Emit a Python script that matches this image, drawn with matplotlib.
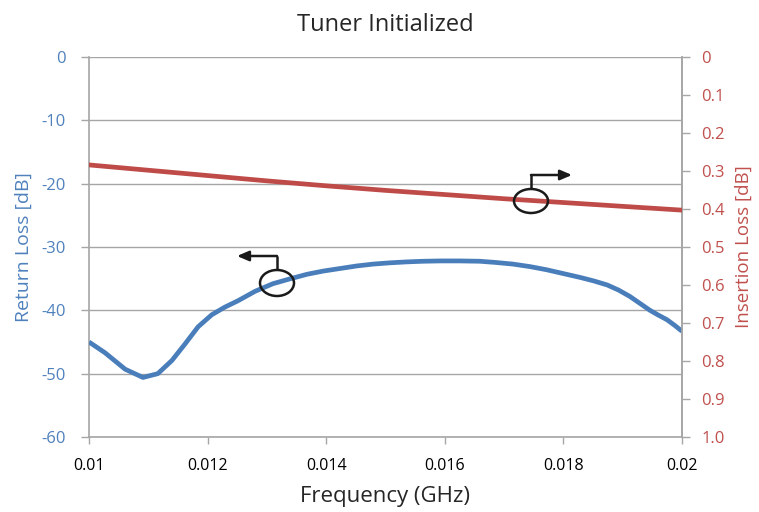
import matplotlib
matplotlib.use("Agg")
import matplotlib.pyplot as plt
from matplotlib.patches import Ellipse

plt.rcParams['font.family'] = ['Open Sans', 'DejaVu Sans']

# Data
freq_rl = [0.01000, 0.01027, 0.01061, 0.01091, 0.01116, 0.01140, 0.01162, 0.01184,
           0.01207, 0.01229, 0.01251, 0.01280, 0.01310, 0.01340, 0.01368, 0.01395,
           0.01423, 0.01451, 0.01479, 0.01507, 0.01536, 0.01564, 0.01592, 0.01625,
           0.01659, 0.01687, 0.01715, 0.01744, 0.01772, 0.01800, 0.01828, 0.01851,
           0.01874, 0.01893, 0.01912, 0.01929, 0.01946, 0.01960, 0.01975, 0.01988,
           0.02000]
return_loss = [-45.0, -46.7, -49.3, -50.6, -50.0, -47.9, -45.3, -42.6,
               -40.7, -39.5, -38.5, -37.0, -35.8, -35.0, -34.3, -33.8,
               -33.4, -33.0, -32.7, -32.5, -32.35, -32.25, -32.2, -32.2,
               -32.25, -32.45, -32.7, -33.1, -33.6, -34.2, -34.8, -35.35,
               -36.0, -36.8, -37.8, -38.9, -40.0, -40.75, -41.5, -42.4,
               -43.3]
freq_il = [0.010, 0.011, 0.012, 0.013, 0.014, 0.015, 0.016, 0.017, 0.018, 0.019, 0.020]
insertion_loss = [0.284, 0.298, 0.312, 0.326, 0.339, 0.351, 0.362, 0.373, 0.383, 0.393, 0.403]

x_ticks = [0.01, 0.012, 0.014, 0.016, 0.018, 0.02]
x_ticklabels = ['0.01', '0.012', '0.014', '0.016', '0.018', '0.02']
left_ticks = [0, -10, -20, -30, -40, -50, -60]
right_ticks = [0, 0.1, 0.2, 0.3, 0.4, 0.5, 0.6, 0.7, 0.8, 0.9, 1.0]
right_ticklabels = ['0', '0.1', '0.2', '0.3', '0.4', '0.5', '0.6', '0.7', '0.8', '0.9', '1.0']

BLUE = '#4a7ebb'
RED = '#be4b48'
LBLUE = '#4f81bd'
LRED = '#c0504d'
GRID = '#a6a6a6'

W, H = 759, 512
fig = plt.figure(figsize=(W / 100, H / 100), dpi=100)
L, R, T, B = 89, 682, 57, 437
ax = fig.add_axes([L / W, 1 - B / H, (R - L) / W, (B - T) / H])

ax.plot(freq_rl, return_loss, color=BLUE, lw=3.4, solid_capstyle='butt',
        solid_joinstyle='round', zorder=3)
ax.set_xlim(0.01, 0.02)
ax.set_ylim(-60, 0)
ax.set_yticks(left_ticks)
ax.set_yticklabels([str(v) for v in left_ticks])
ax.set_xticks(x_ticks)
ax.set_xticklabels(x_ticklabels)
ax.grid(axis='y', color=GRID, lw=1.0)
ax.set_axisbelow(True)
ax.spines['top'].set_visible(False)
for s in ['left', 'bottom', 'right']:
    ax.spines[s].set_color(GRID)
    ax.spines[s].set_linewidth(1.2)
ax.tick_params(axis='y', colors=GRID, labelcolor=LBLUE, labelsize=12, length=6, width=1.0, pad=11)
ax.tick_params(axis='x', colors=GRID, labelcolor='black', labelsize=11.5, length=5, width=1.0, pad=10)
ax.set_xlabel('Frequency (GHz)', fontsize=16, color='#262626', labelpad=9)
ax.set_ylabel('Return Loss [dB]', fontsize=14, color=LBLUE, labelpad=6)
ax.set_title('Tuner Initialized', fontsize=17, color='#262626', pad=19)

ax2 = ax.twinx()
ax2.plot(freq_il, insertion_loss, color=RED, lw=3.4, zorder=3)
ax2.set_ylim(1.0, 0)
ax2.set_yticks(right_ticks)
ax2.set_yticklabels(right_ticklabels)
for s in ['top', 'left', 'bottom']:
    ax2.spines[s].set_visible(False)
ax2.spines['right'].set_color(GRID)
ax2.spines['right'].set_linewidth(1.2)
ax2.tick_params(axis='y', colors=GRID, labelcolor=LRED, labelsize=12, length=6, width=1.0, pad=8)
ax2.set_ylabel('Insertion Loss [dB]', fontsize=13.5, color=LRED, labelpad=7)

# Annotation markers (ellipse with bent arrow), positioned in axes fraction
def px(xp, yp):
    return ((xp - L) / (R - L), (B - yp) / (B - T))

def marker(cx, cy, w, h, top_y, end_x):
    c = px(cx, cy)
    e = Ellipse(c, w / (R - L), h / (B - T), transform=ax2.transAxes,
                fill=False, ec='#1a1a1a', lw=1.8, zorder=5)
    ax2.add_patch(e)
    p0 = px(cx, cy - h / 2)
    p1 = px(cx, top_y)
    ax2.plot([p0[0], p1[0]], [p0[1], p1[1]], color='#1a1a1a', lw=1.8,
             transform=ax2.transAxes, zorder=5, solid_capstyle='butt')
    p2 = px(end_x, top_y)
    ax2.annotate('', xy=p2, xycoords='axes fraction', xytext=(p1[0], p1[1]),
                 textcoords='axes fraction',
                 arrowprops=dict(arrowstyle='-|>,head_length=0.7,head_width=0.3',
                                 color='#1a1a1a', lw=1.8, shrinkA=0, shrinkB=0),
                 zorder=5)

marker(277, 283, 34, 26, 256, 237)
marker(531, 201, 34, 24, 175, 572)

fig.savefig('out.png', dpi=100)
